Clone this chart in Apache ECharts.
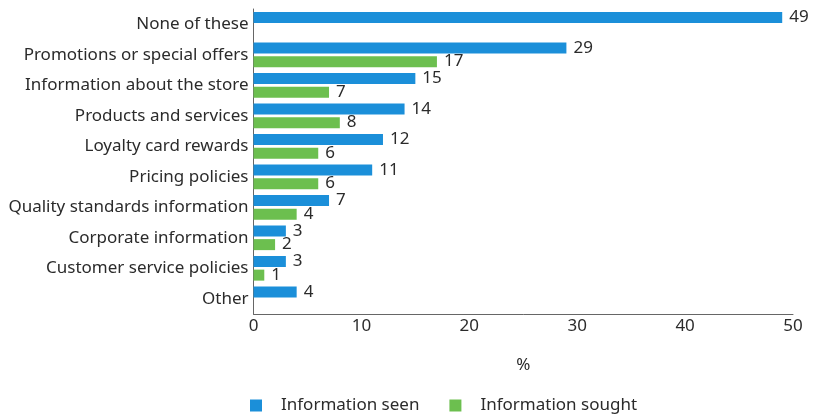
<!DOCTYPE html>
<html>
<head>
<meta charset="utf-8">
<script src="https://cdn.jsdelivr.net/npm/echarts@6/dist/echarts.min.js"></script>
<style>
  html, body { margin: 0; padding: 0; background: #fff; }
  #chart { width: 825px; height: 417px; }
</style>
</head>
<body>
<div id="chart"></div>
<script>
// Categories listed top to bottom
const categories = [
  'None of these',
  'Promotions or special offers',
  'Information about the store',
  'Products and services',
  'Loyalty card rewards',
  'Pricing policies',
  'Quality standards information',
  'Corporate information',
  'Customer service policies',
  'Other'
];
// Percentages; '-' means no bar for that category
const infoSeen   = [49, 29, 15, 14, 12, 11, 7, 3, 3, 4];
const infoSought = ['-', 17, 7, 8, 6, 6, 4, 2, 1, '-'];
const xTicks = [0, 10, 20, 30, 40, 50];

const FONT = '"Noto Sans", sans-serif';
const TEXT = '#2b2b2b';
const BLUE = '#1b8fd9';
const GREEN = '#6cbf4f';
const SIZE = 17;

const chart = echarts.init(document.getElementById('chart'));

const valueLabel = {
  show: true,
  position: 'right',
  distance: 7,
  color: TEXT,
  fontFamily: FONT,
  fontSize: SIZE
};

chart.setOption({
  animation: false,
  textStyle: { fontFamily: FONT },
  grid: { left: 253.5, right: 32, top: 9, bottom: 103, containLabel: false },
  xAxis: {
    type: 'value',
    min: xTicks[0],
    max: xTicks[xTicks.length - 1],
    interval: 10,
    name: '%',
    nameLocation: 'middle',
    nameGap: 43,
    nameTextStyle: { color: TEXT, fontSize: SIZE, fontFamily: FONT },
    axisLine: { show: true, lineStyle: { color: '#666', width: 1 } },
    axisTick: { show: false },
    splitLine: { show: false },
    axisLabel: { color: TEXT, fontSize: SIZE, fontFamily: FONT, margin: 4 }
  },
  yAxis: {
    type: 'category',
    data: categories,
    inverse: true,
    axisLine: { show: true, lineStyle: { color: '#666', width: 1 } },
    axisTick: { show: false },
    axisLabel: { color: TEXT, fontSize: SIZE, fontFamily: FONT, margin: 5, padding: [0, 0, 3, 0] }
  },
  legend: {
    left: 245,
    top: 392,
    itemWidth: 12,
    itemHeight: 12,
    itemGap: 30,
    icon: 'rect',
    textStyle: { color: TEXT, fontSize: SIZE, fontFamily: FONT, padding: [0, 0, 0, 14] },
    data: ['Information seen', 'Information sought']
  },
  series: [
    {
      name: 'Information seen',
      type: 'bar',
      data: infoSeen,
      barWidth: 11,
      barGap: '25%',
      itemStyle: { color: BLUE },
      label: valueLabel
    },
    {
      name: 'Information sought',
      type: 'bar',
      data: infoSought,
      barWidth: 11,
      itemStyle: { color: GREEN },
      label: valueLabel
    }
  ]
});
</script>
</body>
</html>
